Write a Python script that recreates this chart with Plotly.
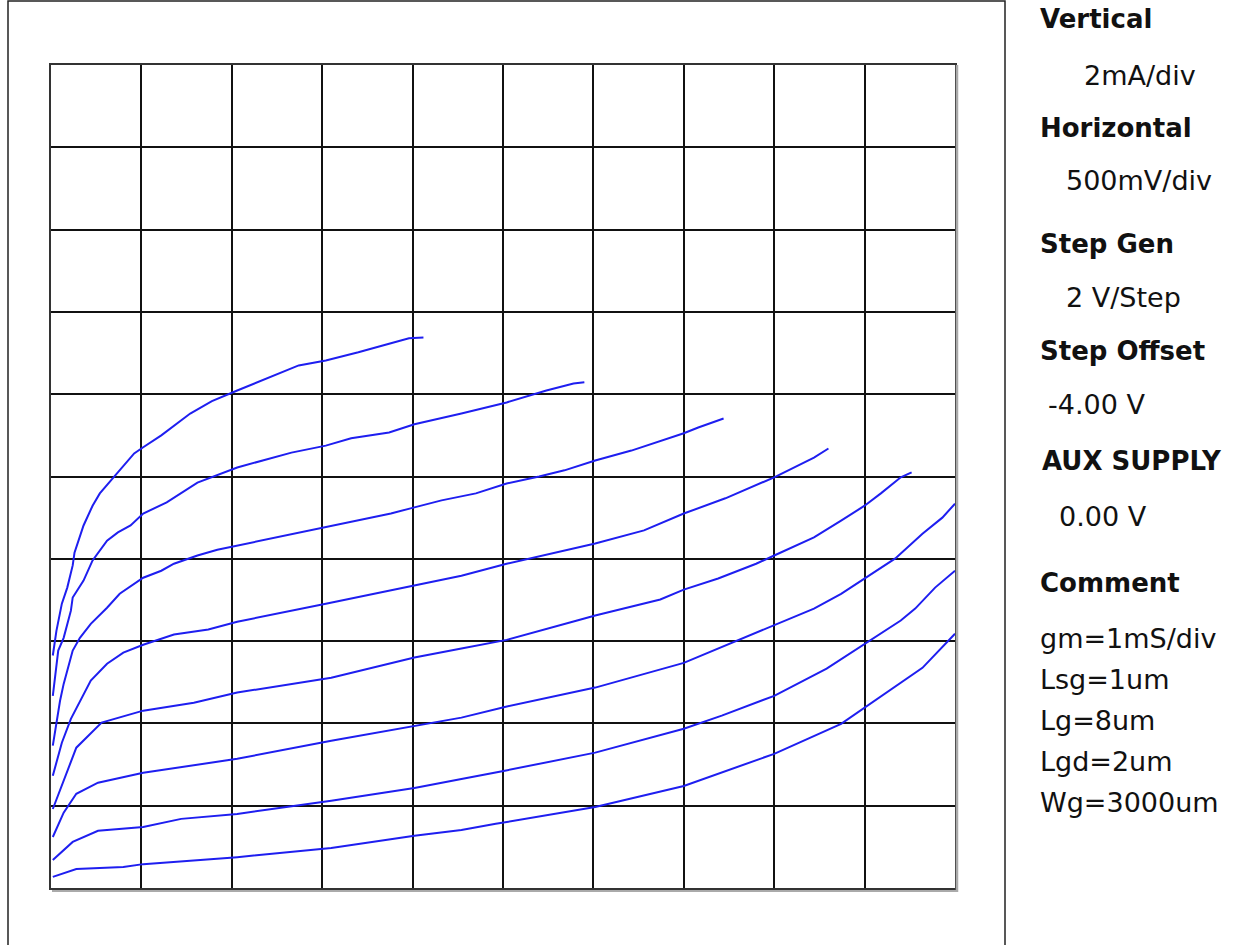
import plotly.graph_objects as go

# Drain voltage (V) / drain current (mA), one pair per gate step (top to bottom)
vd_1 = [0.01, 0.03, 0.06, 0.09, 0.12, 0.13, 0.18, 0.23, 0.27, 0.34, 0.46, 0.51, 0.61, 0.77, 0.89, 1.03, 1.23, 1.37, 1.52, 1.70, 1.88, 1.98, 2.06]
id_1 = [5.65, 6.25, 6.91, 7.30, 7.84, 8.15, 8.81, 9.29, 9.59, 9.95, 10.56, 10.71, 11.00, 11.53, 11.83, 12.09, 12.46, 12.70, 12.82, 13.02, 13.24, 13.36, 13.38]

vd_2 = [0.01, 0.04, 0.07, 0.11, 0.12, 0.18, 0.23, 0.31, 0.37, 0.44, 0.51, 0.64, 0.81, 1.03, 1.33, 1.52, 1.66, 1.87, 2.01, 2.27, 2.52, 2.74, 2.89, 2.95]
id_2 = [4.67, 5.77, 6.08, 6.74, 7.06, 7.47, 7.96, 8.44, 8.64, 8.81, 9.10, 9.37, 9.85, 10.22, 10.58, 10.75, 10.93, 11.07, 11.27, 11.53, 11.80, 12.09, 12.26, 12.29]

vd_3 = [0.01, 0.05, 0.07, 0.12, 0.16, 0.22, 0.31, 0.38, 0.51, 0.61, 0.68, 0.81, 0.92, 1.03, 1.23, 1.52, 1.88, 2.01, 2.16, 2.35, 2.52, 2.70, 2.84, 3.01, 3.21, 3.50, 3.58, 3.72]
id_3 = [3.46, 4.55, 4.96, 5.77, 6.08, 6.42, 6.81, 7.15, 7.54, 7.71, 7.88, 8.08, 8.22, 8.32, 8.52, 8.78, 9.10, 9.25, 9.42, 9.59, 9.83, 10.00, 10.15, 10.39, 10.63, 11.05, 11.19, 11.41]

vd_4 = [0.01, 0.06, 0.11, 0.16, 0.22, 0.31, 0.40, 0.51, 0.68, 0.87, 1.03, 1.52, 2.01, 2.27, 2.52, 3.01, 3.28, 3.50, 3.73, 4.00, 4.22, 4.30]
id_4 = [2.73, 3.53, 4.11, 4.55, 5.04, 5.45, 5.72, 5.91, 6.16, 6.28, 6.47, 6.91, 7.35, 7.59, 7.88, 8.37, 8.69, 9.10, 9.47, 9.98, 10.46, 10.68]

vd_5 = [0.01, 0.11, 0.14, 0.28, 0.51, 0.79, 1.03, 1.55, 2.01, 2.27, 2.52, 2.91, 3.01, 3.37, 3.50, 3.69, 3.90, 4.00, 4.22, 4.37, 4.50, 4.59, 4.70, 4.76]
id_5 = [1.92, 3.09, 3.41, 4.02, 4.31, 4.50, 4.75, 5.11, 5.60, 5.82, 6.03, 6.50, 6.62, 7.01, 7.25, 7.52, 7.88, 8.08, 8.52, 8.93, 9.29, 9.59, 9.98, 10.10]

vd_6 = [0.01, 0.07, 0.14, 0.26, 0.51, 1.03, 1.55, 2.01, 2.27, 2.51, 3.01, 3.50, 4.00, 4.22, 4.37, 4.50, 4.67, 4.82, 4.93, 5.00]
id_6 = [1.24, 1.83, 2.29, 2.56, 2.80, 3.14, 3.58, 3.94, 4.14, 4.40, 4.87, 5.47, 6.38, 6.79, 7.15, 7.52, 8.01, 8.61, 9.00, 9.34]

vd_7 = [0.01, 0.12, 0.26, 0.51, 0.72, 1.03, 1.55, 2.01, 2.27, 2.51, 3.01, 3.50, 3.71, 4.00, 4.29, 4.50, 4.70, 4.78, 4.89, 5.00]
id_7 = [0.68, 1.12, 1.39, 1.48, 1.68, 1.80, 2.12, 2.43, 2.65, 2.85, 3.29, 3.87, 4.19, 4.67, 5.33, 5.94, 6.50, 6.79, 7.30, 7.71]

vd_8 = [0.01, 0.14, 0.40, 0.51, 1.03, 1.55, 2.01, 2.27, 2.46, 3.01, 3.50, 4.00, 4.37, 4.50, 4.82, 5.00]
id_8 = [0.27, 0.46, 0.51, 0.58, 0.75, 0.97, 1.27, 1.41, 1.56, 1.97, 2.48, 3.26, 3.99, 4.38, 5.35, 6.18]

curves = [(vd_1, id_1), (vd_2, id_2), (vd_3, id_3), (vd_4, id_4),
          (vd_5, id_5), (vd_6, id_6), (vd_7, id_7), (vd_8, id_8)]

# Side panel text
panel_labels = ["Vertical", "2mA/div", "Horizontal", "500mV/div", "Step Gen", "2 V/Step",
                "Step Offset", "-4.00 V", "AUX SUPPLY", "0.00 V", "Comment",
                "gm=1mS/div", "Lsg=1um", "Lg=8um", "Lgd=2um", "Wg=3000um"]
panel_bold = [True, False, True, False, True, False, True, False, True, False, True,
              False, False, False, False, False]

W, H = 1242, 945
L, R, T, B = 51, 287, 65, 57
PW, PH = W - L - R, H - T - B

def px(x):
    return (x - L) / PW

def py(y):
    return (H - B - y) / PH

panel_pos = [(1038, 19), (1082, 75), (1038, 128), (1064, 181), (1038, 244), (1064, 297),
             (1038, 351), (1046, 404), (1040, 461), (1057, 516), (1038, 583),
             (1038, 638), (1038, 679), (1038, 720), (1038, 761), (1038, 802)]

fig = go.Figure()
for vd, idd in curves:
    fig.add_trace(go.Scatter(x=vd, y=idd, mode="lines",
                             line=dict(color="rgb(30,30,240)", width=2),
                             showlegend=False, hoverinfo="skip"))

for text, bold, (x, y) in zip(panel_labels, panel_bold, panel_pos):
    fig.add_annotation(x=px(x), y=py(y), xref="paper", yref="paper",
                       text=f"<b>{text}</b>" if bold else text,
                       showarrow=False, xanchor="left", yanchor="middle",
                       font=dict(family="DejaVu Sans", size=26 if bold else 27,
                                 color="#111"))

# outer frame
fig.add_shape(type="rect", xref="paper", yref="paper",
              x0=px(8), x1=px(1005), y0=py(960), y1=py(1),
              line=dict(color="#222", width=1.5))
# inset shadow of plotting frame
fig.add_shape(type="line", xref="paper", yref="paper",
              x0=px(957), x1=px(957), y0=py(892), y1=py(65),
              line=dict(color="#aaa", width=2.5))
fig.add_shape(type="line", xref="paper", yref="paper",
              x0=px(52), x1=px(958), y0=py(891), y1=py(891),
              line=dict(color="#aaa", width=2))

fig.update_xaxes(range=[0, 5], dtick=0.5, tick0=0, showgrid=True,
                 gridcolor="#111", gridwidth=1.5, zeroline=False,
                 showticklabels=False, ticks="", showline=True, mirror=True,
                 linecolor="#333", linewidth=1.6, fixedrange=True)
fig.update_yaxes(range=[0, 20], dtick=2, tick0=0, showgrid=True,
                 gridcolor="#111", gridwidth=1.5, zeroline=False,
                 showticklabels=False, ticks="", showline=True, mirror=True,
                 linecolor="#333", linewidth=1.6, fixedrange=True)

fig.update_layout(width=W, height=H, margin=dict(l=L, r=R, t=T, b=B),
                  paper_bgcolor="white", plot_bgcolor="white")

fig.write_html("out.html", config={"displayModeBar": False},
               post_script="document.body.style.margin='0';")
